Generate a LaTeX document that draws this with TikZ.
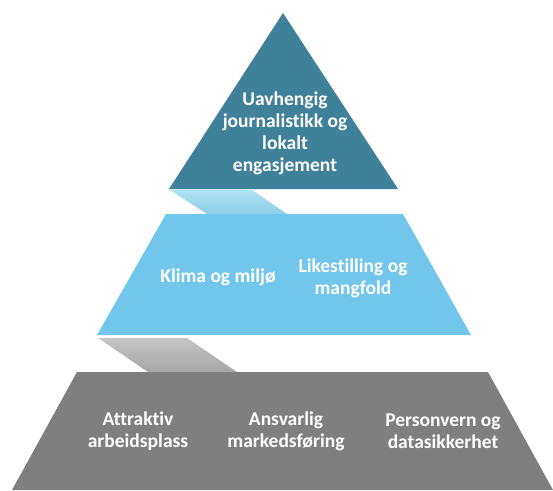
\documentclass[tikz,border=0pt]{standalone}
\usepackage{fontspec}
\setmainfont[Ligatures={NoCommon},RawFeature={-liga}]{Carlito}
\begin{document}
\begin{tikzpicture}[x=1pt,y=-1pt,
  lbl/.style={text=white,font=\bfseries\fontsize{19.5}{22}\selectfont,align=center,inner sep=0pt}]
\definecolor{topc}{RGB}{63,128,155}
\definecolor{midc}{RGB}{114,197,235}
\definecolor{botc}{RGB}{127,127,127}
\definecolor{linkAtop}{RGB}{176,226,245}
\definecolor{linkAbot}{RGB}{140,205,230}
\definecolor{linkBtop}{RGB}{197,197,199}
\definecolor{linkBbot}{RGB}{166,166,166}
\useasboundingbox (0,0) rectangle (553,490);
% tiers
\fill[topc] (169,189) -- (283,13) -- (398,189) -- cycle;
\fill[midc] (166,214) -- (403,214) -- (471,335) -- (97,335) -- cycle;
\fill[botc] (77,372) -- (488,372) -- (553,490) -- (12,490) -- cycle;
% links
\shade[top color=linkAtop,bottom color=linkAbot] (170,190) -- (252,190) -- (287,214) -- (207,214) -- cycle;
\shade[top color=linkBtop,bottom color=linkBbot] (98,338) -- (187,338) -- (237,372) -- (148,372) -- cycle;
% labels
\node[lbl] (t1) at (285,133) {Uavhengig\\journalistikk og\\lokalt\\engasjement};
\node[lbl] (m1) at (218,277) {Klima og miljø};
\node[lbl] (m2) at (353,278) {Likestilling og\\mangfold};
\node[lbl] (b1) at (138,431) {Attraktiv\\arbeidsplass};
\node[lbl] (b2) at (286,431) {Ansvarlig\\markedsføring};
\node[lbl] (b3) at (443,431) {Personvern og\\datasikkerhet};
\end{tikzpicture}
\end{document}
